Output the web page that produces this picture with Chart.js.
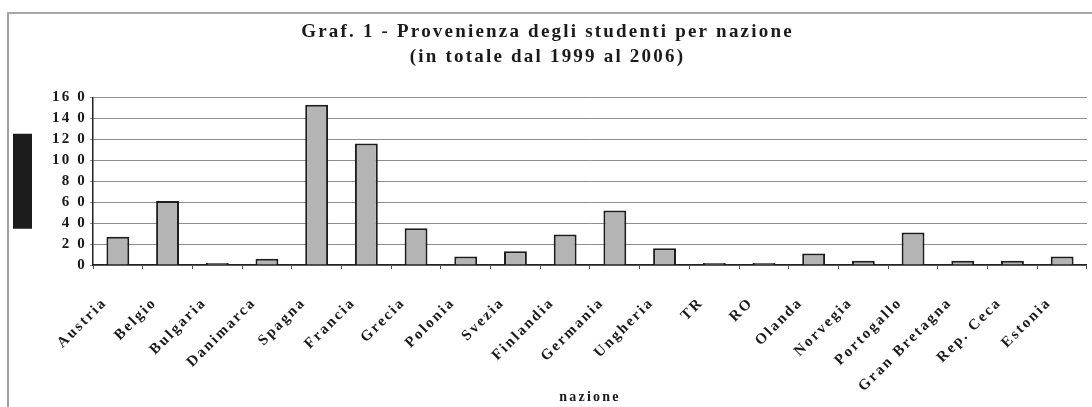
<!DOCTYPE html>
<html>
<head>
<meta charset="utf-8">
<script src="https://cdn.jsdelivr.net/npm/chart.js@4.4.1/dist/chart.umd.min.js"></script>
<style>
  html, body { margin: 0; padding: 0; background: #fff; overflow: hidden; }
  #wrap { position: relative; width: 1100px; height: 407px; }
  #frame { position: absolute; left: 7px; top: 12px; width: 1200px; height: 500px;
           border-left: 2px solid #a0a0a0; border-top: 2px solid #a8a8a8; }
  canvas { position: absolute; left: 0; top: 0; }
</style>
</head>
<body>
<div id="wrap">
  <div id="frame"></div>
  <canvas id="c" width="1100" height="407"></canvas>
</div>
<script>
const titleLines = ["Graf. 1 - Provenienza degli studenti per nazione", "(in totale dal 1999 al 2006)"];
const xAxisTitle = "nazione";
const categories = ["Austria", "Belgio", "Bulgaria", "Danimarca", "Spagna", "Francia", "Grecia",
  "Polonia", "Svezia", "Finlandia", "Germania", "Ungheria", "TR", "RO", "Olanda", "Norvegia",
  "Portogallo", "Gran Bretagna", "Rep. Ceca", "Estonia"];
const students = [27, 61, 2, 6, 153, 116, 35, 8, 13, 29, 52, 16, 2, 2, 11, 4, 31, 4, 4, 8];
const yTickLabels = ["0", "2 0", "4 0", "6 0", "8 0", "10 0", "12 0", "14 0", "16 0"];

const SERIF = "'Liberation Serif', 'Times New Roman', serif";
const spacingPlugin = {
  id: 'spacing',
  beforeUpdate(c) { c.ctx.letterSpacing = '2.2px'; },
  beforeLayout(c) { c.ctx.letterSpacing = '2.2px'; },
  beforeDraw(c) { c.ctx.letterSpacing = '2.2px'; }
};

new Chart(document.getElementById('c'), {
  type: 'bar',
  plugins: [spacingPlugin],
  data: {
    labels: categories,
    datasets: [{
      label: 'studenti',
      data: students,
      backgroundColor: '#b4b4b4',
      borderColor: '#1c1c1c',
      borderWidth: 2,
      barPercentage: 0.46,
      categoryPercentage: 1.0
    }]
  },
  options: {
    responsive: false,
    animation: false,
    layout: { padding: { left: 0, right: 5, top: 0, bottom: 0 } },
    plugins: {
      title: {
        display: true,
        text: titleLines,
        color: '#1a1a1a',
        font: { family: SERIF, size: 19, weight: 'bold', lineHeight: 1.35 },
        padding: { top: 19, bottom: 27 }
      },
      legend: {
        display: true,
        position: 'left',
        fullSize: false,
        onClick: null,
        labels: {
          boxWidth: 19,
          boxHeight: 95,
          padding: 13,
          font: { size: 2 },
          generateLabels: () => [{ text: '', fillStyle: '#1c1c1c', strokeStyle: '#1c1c1c', lineWidth: 0, hidden: false, datasetIndex: 0 }]
        }
      },
      tooltip: { enabled: false }
    },
    scales: {
      x: {
        grid: { display: true, drawOnChartArea: false, offset: true, drawTicks: true, tickLength: 4, color: '#555' },
        border: { display: true, color: '#222', width: 1.5 },
        ticks: {
          autoSkip: false, minRotation: 45, maxRotation: 45, padding: 25, labelOffset: -13,
          color: '#1a1a1a',
          font: { family: SERIF, size: 15, weight: 'bold' }
        },
        title: {
          display: true, text: xAxisTitle, color: '#1a1a1a',
          font: { family: SERIF, size: 14, weight: 'bold', lineHeight: 1.2 },
          padding: { top: 0, bottom: 1 }
        },
        afterFit(scale) { scale.height = 142; }
      },
      y: {
        min: 0, max: 160,
        grid: { color: '#8e8e8e', lineWidth: 1, drawTicks: true, tickLength: 3 },
        border: { display: true, color: '#222', width: 1.5 },
        ticks: {
          stepSize: 20, autoSkip: false, padding: 3, color: '#1a1a1a',
          font: { family: SERIF, size: 15, weight: 'bold' },
          callback: (v, i) => yTickLabels[i]
        },
        afterFit(scale) { scale.width = 50; }
      }
    }
  }
});
</script>
</body>
</html>
